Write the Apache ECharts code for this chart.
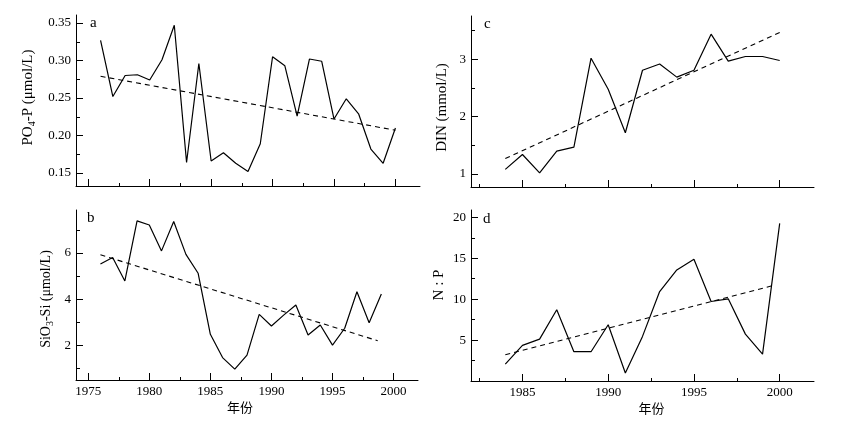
<!DOCTYPE html>
<html>
<head>
<meta charset="utf-8">
<script src="https://cdn.jsdelivr.net/npm/echarts@6/dist/echarts.min.js"></script>
<style>
  html, body { margin: 0; padding: 0; background: #fff; }
  #chart { width: 849px; height: 423px; }
</style>
</head>
<body>
<div id="chart"></div>
<script>
// values
const yearsA = [1976, 1977, 1978, 1979, 1980, 1981, 1982, 1983, 1984, 1985, 1986, 1987, 1988,
  1989, 1990, 1991, 1992, 1993, 1994, 1995, 1996, 1997, 1998, 1999, 2000]
const po4 = [0.327, 0.252, 0.280, 0.281, 0.274, 0.301, 0.347, 0.164, 0.296, 0.166, 0.177, 0.163, 0.152,
  0.189, 0.305, 0.293, 0.226, 0.302, 0.299, 0.222, 0.249, 0.229, 0.182, 0.163, 0.210]
const po4TrendYears = [1976, 2000]
const po4Trend = [0.279, 0.207]

const yearsB = [1976, 1977, 1978, 1979, 1980, 1981, 1982, 1983, 1984, 1985, 1986, 1987, 1988,
  1989, 1990, 1991, 1992, 1993, 1994, 1995, 1996, 1997, 1998, 1999]
const sio3 = [5.52, 5.80, 4.79, 7.39, 7.21, 6.09, 7.36, 5.94, 5.12, 2.48, 1.47, 0.97, 1.58,
  3.34, 2.84, 3.31, 3.75, 2.45, 2.88, 2.01, 2.74, 4.32, 2.98, 4.22]
const sio3TrendYears = [1976, 1998.7]
const sio3Trend = [5.92, 2.2]

const yearsCD = [1984, 1985, 1986, 1987, 1988, 1989, 1990, 1991, 1992, 1993, 1994, 1995, 1996,
  1997, 1998, 1999, 2000]
const din = [1.08, 1.34, 1.02, 1.40, 1.47, 3.02, 2.48, 1.72, 2.81, 2.92, 2.69, 2.81, 3.44,
  2.97, 3.05, 3.05, 2.98]
const dinTrendYears = [1984, 2000]
const dinTrend = [1.27, 3.47]

const np = [2.07, 4.35, 5.12, 8.70, 3.58, 3.58, 6.87, 0.98, 5.45, 10.93, 13.58, 14.88, 9.72,
  10.04, 5.73, 3.29, 19.27]
const npTrendYears = [1984, 1999.5]
const npTrend = [3.21, 11.6]

const ticksYearAB = [1975, 1980, 1985, 1990, 1995, 2000]
const minorYearAB = [1977.5, 1982.5, 1987.5, 1992.5, 1997.5]
const ticksYearCD = [1985, 1990, 1995, 2000]
const minorYearCD = [1982.5, 1987.5, 1992.5, 1997.5]

const ticksA = [0.15, 0.20, 0.25, 0.30, 0.35]
const minorA = [0.175, 0.225, 0.275, 0.325]
const ticksB = [2, 4, 6]
const minorB = [1, 3, 5, 7]
const ticksC = [1, 2, 3]
const minorC = [1.5, 2.5, 3.5]
const ticksD = [5, 10, 15, 20]
const minorD = [2.5, 7.5, 12.5, 17.5]

const SERIF = '"Liberation Serif", "Times New Roman", serif'
const CJK = '"Noto Sans CJK SC", sans-serif'

const grids = [
  { left: 76, top: 15, width: 344, height: 171 },
  { left: 76, top: 210, width: 342, height: 170 },
  { left: 471, top: 16, width: 343, height: 171 },
  { left: 471, top: 210, width: 343, height: 171 },
]

const xAxes = []
const yAxes = []

// one axis for line + labels + name, and two more that only carry the long and short ticks
function addAxes(list, type, gridIndex, min, max, major, minor, opts) {
  const o = opts || {}
  const base = {
    type: 'value',
    gridIndex,
    min,
    max,
    position: type === 'x' ? 'bottom' : 'left',
    splitLine: { show: false },
  }
  const main = Object.assign({}, base, {
    axisLine: { show: true, onZero: false, lineStyle: { color: '#000', width: 1 } },
    axisTick: { show: false },
    axisLabel: {
      show: o.labels !== false,
      customValues: major,
      margin: 5,
      color: '#000',
      fontFamily: SERIF,
      fontSize: 13,
      formatter: o.fmt || (v => String(v)),
    },
  })
  if (o.name) {
    main.name = o.name
    main.nameLocation = 'middle'
    main.nameGap = o.nameGap
    main.nameTextStyle = o.nameTextStyle
    if (type === 'y') main.nameRotate = 90
  }
  const tickAxis = (values, length) => Object.assign({}, base, {
    axisLine: { show: false, onZero: false },
    axisTick: { show: true, inside: true, length, customValues: values, lineStyle: { color: '#000', width: 1 } },
    axisLabel: { show: false },
  })
  list.push(main, tickAxis(major, 7), tickAxis(minor, type === 'x' ? 3 : 4))
  return list.length - 3
}

function yName(text, gap, padding, size) {
  const fs = size || 15
  return {
    name: text,
    nameGap: gap,
    nameTextStyle: {
      color: '#000',
      fontFamily: SERIF,
      fontSize: fs,
      padding,
      rich: {
        n: { fontFamily: SERIF, fontSize: fs, color: '#000' },
        s: { fontFamily: SERIF, fontSize: 10, color: '#000', verticalAlign: 'bottom', padding: [8, 0, 0, 0] },
      },
    },
  }
}

const xTitle = (padding) => ({
  name: '年份',
  nameGap: 21,
  nameTextStyle: { color: '#000', fontFamily: CJK, fontSize: 13, padding },
})

const xa = addAxes(xAxes, 'x', 0, 1974, 2002, ticksYearAB, minorYearAB, { labels: false })
const xb = addAxes(xAxes, 'x', 1, 1974, 2002, ticksYearAB, minorYearAB, xTitle([0, 14, 0, 0]))
const xc = addAxes(xAxes, 'x', 2, 1982, 2002, ticksYearCD, minorYearCD, { labels: false })
const xd = addAxes(xAxes, 'x', 3, 1982, 2002, ticksYearCD, minorYearCD, xTitle([0, 0, 0, 18]))

const ya = addAxes(yAxes, 'y', 0, 0.1327, 0.3607, ticksA, minorA, Object.assign(
  { fmt: v => v.toFixed(2) }, yName('{n|PO}{s|4}{n|-P (μmol/L)}', 39, [0, 0, 0, 6])))
const yb = addAxes(yAxes, 'y', 1, 0.5, 7.86, ticksB, minorB,
  yName('{n|SiO}{s|3}{n|-Si (μmol/L)}', 21, [0, 8, 0, 0], 14))
const yc = addAxes(yAxes, 'y', 2, 0.773, 3.757, ticksC, minorC,
  yName('DIN (mmol/L)', 21, [0, 12, 0, 0]))
const yd = addAxes(yAxes, 'y', 3, 0, 20.9, ticksD, minorD,
  yName('N : P', 24, [0, 0, 0, 21]))

function pairs(xs, ys) {
  return xs.map((x, i) => [x, ys[i]])
}

function solid(x, y, xs, ys) {
  return {
    type: 'line', xAxisIndex: x, yAxisIndex: y, data: pairs(xs, ys),
    symbol: 'none', silent: true, animation: false,
    lineStyle: { color: '#000', width: 1.2 },
  }
}

function dashed(x, y, xs, ys) {
  return {
    type: 'line', xAxisIndex: x, yAxisIndex: y, data: pairs(xs, ys),
    symbol: 'none', silent: true, animation: false,
    lineStyle: { color: '#000', width: 1.1, type: [5, 4] },
  }
}

function letter(text, x, y) {
  return {
    type: 'text', left: x, top: y,
    style: { text, fill: '#000', font: '15px ' + SERIF },
  }
}

const chart = echarts.init(document.getElementById('chart'))
chart.setOption({
  backgroundColor: '#fff',
  animation: false,
  grid: grids,
  xAxis: xAxes,
  yAxis: yAxes,
  series: [
    solid(xa, ya, yearsA, po4),
    dashed(xa, ya, po4TrendYears, po4Trend),
    solid(xb, yb, yearsB, sio3),
    dashed(xb, yb, sio3TrendYears, sio3Trend),
    solid(xc, yc, yearsCD, din),
    dashed(xc, yc, dinTrendYears, dinTrend),
    solid(xd, yd, yearsCD, np),
    dashed(xd, yd, npTrendYears, npTrend),
  ],
  graphic: [
    letter('a', 90, 16),
    letter('b', 87, 211),
    letter('c', 484, 17),
    letter('d', 483, 212),
  ],
})
</script>
</body>
</html>
